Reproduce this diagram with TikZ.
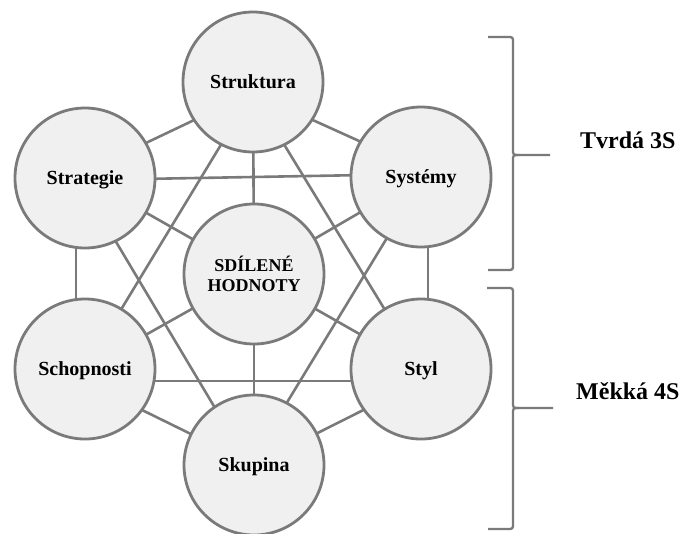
\documentclass[tikz,border=0pt]{standalone}
\usepackage{fontspec}
\setmainfont{Liberation Serif}
\definecolor{circfill}{RGB}{240,240,240}
\definecolor{edgegray}{RGB}{122,122,122}
\pgfdeclarelayer{bg}
\pgfsetlayers{bg,main}
\begin{document}
\begin{tikzpicture}[x=1pt,y=-1pt,
  sbase/.style={circle, draw=edgegray, line width=2.8pt, fill=circfill,
    minimum size=140pt, inner sep=0pt},
  sbox/.style={sbase, font=\bfseries\fontsize{20}{24}\selectfont,
    text height=13.2pt, text depth=0pt},
  cbox/.style={sbase, font=\bfseries\fontsize{18}{19.5}\selectfont, align=center},
  conn/.style={draw=edgegray, line width=2.6pt},
  bracket/.style={draw=edgegray, line width=2.3pt},
  lab/.style={font=\bfseries\fontsize{24}{28}\selectfont, text height=15.8pt,
    text depth=0pt, inner sep=0pt, anchor=west}]
\useasboundingbox (0,0) rectangle (680,533);

\node[sbox] (A) at (253,82)  {Struktura};
\node[sbox] (B) at (85,178)  {Strategie};
\node[sbox] (C) at (421,177) {Systémy};
\node[cbox] (D) at (254,274) {SDÍLENÉ\\HODNOTY};
\node[sbox] (E) at (85,369)  {Schopnosti};
\node[sbox] (F) at (421,369) {Styl};
\node[sbox] (G) at (254,465) {Skupina};

\begin{pgfonlayer}{bg}
\draw[conn] ([yshift=-10pt]A.center) -- ([yshift=6pt]B.center);
\draw[conn] ([yshift=-11pt]A.center) -- ([yshift=8pt]C.center);
\draw[conn] (A.center) -- (D.center);
\draw[conn] ([xshift=6pt]A.center) -- (E.center);
\draw[conn] ([xshift=-7pt]A.center) -- (F.center);
\draw[conn] ([yshift=-2pt]B.center) -- ([yshift=3pt]C.center);
\draw[conn] (B.center) -- (D.center);
\draw[conn] ([xshift=-9pt]B.center) -- ([xshift=-9pt]E.center);
\draw[conn] ([xshift=-7pt]B.center) -- ([xshift=-5pt]G.center);
\draw[conn] (C.center) -- (D.center);
\draw[conn] ([xshift=7pt]C.center) -- ([xshift=7pt]F.center);
\draw[conn] ([xshift=3pt]C.center) -- ([xshift=-5pt]G.center);
\draw[conn] (D.center) -- (E.center);
\draw[conn] (D.center) -- (F.center);
\draw[conn] (D.center) -- (G.center);
\draw[conn] ([yshift=-12pt]E.center) -- ([yshift=-12pt]F.center);
\draw[conn] ([yshift=-13pt]E.center) -- (G.center);
\draw[conn] ([yshift=-12pt]F.center) -- (G.center);
\end{pgfonlayer}

% braces
\draw[bracket] (488,37) -- (507,37) .. controls (513,37) .. (513,43) -- (513,149)
  .. controls (513,155) .. (519,155) -- (550,155);
\draw[bracket] (519,155) .. controls (513,155) .. (513,161) -- (513,264)
  .. controls (513,270) .. (507,270) -- (488,270);
\draw[bracket] (487,288) -- (507,288) .. controls (513,288) .. (513,294) -- (513,402)
  .. controls (513,408) .. (519,408) -- (553,408);
\draw[bracket] (519,408) .. controls (513,408) .. (513,414) -- (513,523)
  .. controls (513,529) .. (507,529) -- (488,529);

\node[lab] (T) at (580,141) {Tvrdá 3S};
\node[lab] (M) at (576,392) {Měkká 4S};
\end{tikzpicture}
\end{document}
